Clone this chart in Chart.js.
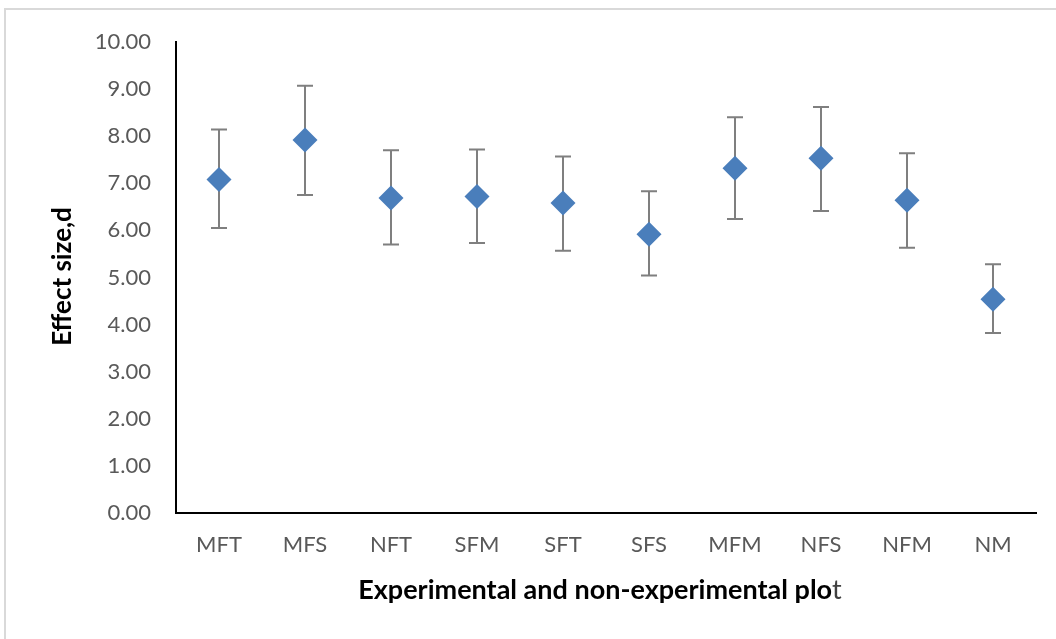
<!DOCTYPE html>
<html>
<head>
<meta charset="utf-8">
<script src="https://cdn.jsdelivr.net/npm/chart.js@4"></script>
<style>
  html, body { margin: 0; padding: 0; background: #fff; }
  .frame { position: absolute; left: 4px; top: 8px; width: 1052px; height: 631px;
           border-top: 2px solid #d9d9d9; border-left: 2px solid #d9d9d9; box-sizing: border-box; }
  .wrap { position: absolute; left: 0; top: 0; width: 1056px; height: 639px; }
</style>
</head>
<body>
<div class="frame"></div>
<div class="wrap"><canvas id="c1" width="1056" height="639"></canvas></div>
<script>
// data
const plots = ['MFT','MFS','NFT','SFM','SFT','SFS','MFM','NFS','NFM','NM'];
const effect = [7.08, 7.92, 6.69, 6.72, 6.58, 5.92, 7.32, 7.53, 6.64, 4.54];
const upper = [8.14, 9.07, 7.70, 7.72, 7.57, 6.83, 8.40, 8.62, 7.64, 5.28];
const lower = [6.05, 6.75, 5.70, 5.73, 5.57, 5.04, 6.24, 6.41, 5.63, 3.82];
const yTicks = [0,1,2,3,4,5,6,7,8,9,10];

const font = 'Lato, "Open Sans", sans-serif';

// error bars, behind the diamonds
const errorBars = {
  id: 'errorBars',
  beforeDatasetsDraw(chart) {
    const ctx = chart.ctx;
    const x = chart.scales.x, y = chart.scales.y;
    ctx.save();
    ctx.strokeStyle = '#7f7f7f';
    ctx.lineWidth = 2;
    plots.forEach(function(p, i){
      const px = x.getPixelForValue(i);
      const top = y.getPixelForValue(upper[i]);
      const bot = y.getPixelForValue(lower[i]);
      ctx.beginPath();
      ctx.moveTo(px, top); ctx.lineTo(px, bot);
      ctx.moveTo(px - 8, top); ctx.lineTo(px + 8, top);
      ctx.moveTo(px - 8, bot); ctx.lineTo(px + 8, bot);
      ctx.stroke();
    });
    ctx.restore();
  }
};

// axis titles
const axisTitles = {
  id: 'axisTitles',
  afterDraw(chart) {
    const ctx = chart.ctx;
    const a = chart.chartArea;
    ctx.save();
    ctx.textBaseline = 'middle';
    // x title: last letter is lighter in the original
    const t1 = 'Experimental and non-experimental plo', t2 = 't';
    ctx.font = 'bold 27px ' + font;
    const w1 = ctx.measureText(t1).width;
    ctx.font = '27px ' + font;
    const w2 = ctx.measureText(t2).width;
    let sx = (a.left + a.right) / 2 - 6 - (w1 + w2) / 2;
    const ty = a.bottom + 77;
    ctx.textAlign = 'left';
    ctx.font = 'bold 27px ' + font;
    ctx.fillStyle = '#000';
    ctx.fillText(t1, sx, ty);
    ctx.font = '27px ' + font;
    ctx.fillStyle = '#404040';
    ctx.fillText(t2, sx + w1, ty);
    // y title
    ctx.translate(63, (a.top + a.bottom) / 2 - 1);
    ctx.rotate(-Math.PI / 2);
    ctx.textAlign = 'center';
    ctx.font = 'bold 26px ' + font;
    ctx.fillStyle = '#000';
    ctx.fillText('Effect size,d', 0, 0);
    ctx.restore();
  }
};

new Chart(document.querySelector('#c1'), {
  type: 'line',
  data: {
    labels: plots,
    datasets: [{
      data: effect,
      showLine: false,
      pointStyle: 'rectRot',
      pointRadius: 12.5,
      pointHoverRadius: 12.5,
      backgroundColor: '#4a7ebb',
      borderColor: '#4a7ebb',
      pointBorderWidth: 0
    }]
  },
  options: {
    responsive: false,
    animation: false,
    layout: { padding: { top: 42, right: 20, left: 0, bottom: 0 } },
    plugins: { legend: { display: false }, tooltip: { enabled: false } },
    scales: {
      x: {
        offset: true,
        grid: { display: false, drawTicks: false },
        border: { color: '#000', width: 2 },
        ticks: { color: '#595959', font: { family: font, size: 22 }, padding: 19 },
        afterFit(s) { s.height = 126; }
      },
      y: {
        min: 0, max: 10,
        afterBuildTicks(s) { s.ticks = yTicks.map(v => ({ value: v })); },
        grid: { display: false, drawTicks: false },
        border: { color: '#000', width: 2 },
        ticks: {
          color: '#595959', font: { family: font, size: 22 }, padding: 25,
          callback: v => Number(v).toFixed(2)
        },
        afterFit(s) { s.width = 176; }
      }
    }
  },
  plugins: [errorBars, axisTitles]
});
</script>
</body>
</html>
